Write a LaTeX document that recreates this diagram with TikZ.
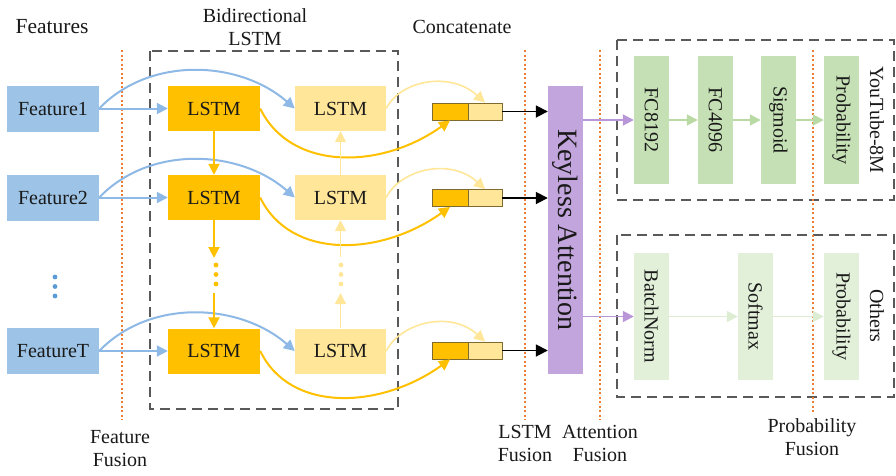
\documentclass[tikz,border=0pt]{standalone}
\usepackage{fontspec}
\setmainfont{Liberation Serif}
\usepackage{graphicx}
\usetikzlibrary{arrows.meta,calc}
\definecolor{featblue}{HTML}{9DC3E6}
\definecolor{arrowblue}{HTML}{8EB8E5}
\definecolor{dotblue}{HTML}{5B9BD5}
\definecolor{lstmorange}{HTML}{FFC000}
\definecolor{lstmyellow}{HTML}{FFE699}
\definecolor{kpurple}{HTML}{C3A5DD}
\definecolor{parrow}{HTML}{B896D8}
\definecolor{greenA}{HTML}{C5E0B4}
\definecolor{greenB}{HTML}{E2F0D9}
\definecolor{garrowA}{HTML}{B9DAA4}
\definecolor{garrowB}{HTML}{DDEDD3}
\definecolor{fuseorange}{HTML}{ED7D31}
\definecolor{dashgray}{HTML}{595959}
\definecolor{catedge}{HTML}{7F6A30}
\begin{document}
\begin{tikzpicture}[x=1pt,y=-1pt,
  txt/.style={font=\fontsize{20}{23}\selectfont, text=black!90},
  box/.style={inner sep=0pt, draw=none, txt},
  feat/.style={box, fill=featblue, minimum width=92pt, minimum height=46pt},
  lstmf/.style={box, fill=lstmorange, minimum width=92pt, minimum height=45pt},
  lstmb/.style={box, fill=lstmyellow, minimum width=91pt, minimum height=45pt},
  catA/.style={draw=catedge, line width=0.8pt, fill=lstmorange, minimum width=36pt, minimum height=17pt, inner sep=0pt},
  catB/.style={draw=catedge, line width=0.8pt, fill=lstmyellow, minimum width=34pt, minimum height=17pt, inner sep=0pt},
  fcA/.style={box, fill=greenA, minimum width=35pt, minimum height=128pt},
  fcB/.style={box, fill=greenB, minimum width=35pt, minimum height=127pt},
  fuse/.style={draw=fuseorange, line width=1.5pt, dash pattern=on 2pt off 2.5pt},
  grp/.style={draw=dashgray, line width=1.4pt, dash pattern=on 10pt off 6pt},
  tip/.style={-{Triangle[length=11pt,width=11pt]}},
  barrow/.style={draw=arrowblue, line width=2pt, tip},
  oarrow/.style={draw=lstmorange, line width=2pt, tip},
  yarrow/.style={draw=lstmyellow, line width=1.6pt, tip},
  karrow/.style={draw=black, line width=1.8pt, -{Triangle[length=12pt,width=12pt]}},
  parw/.style={draw=parrow, line width=1.8pt, tip},
  garwA/.style={draw=garrowA, line width=1.8pt, tip},
  garwB/.style={draw=garrowB, line width=1.8pt, tip},
  lbl/.style={txt, align=center, inner sep=0pt}
]
\useasboundingbox (0,0) rectangle (896,475);

% group boxes
\draw[grp] (150,51) rectangle (398,409);
\draw[grp] (617,40) rectangle (894,200);
\draw[grp] (617,235) rectangle (894,397);

% fusion lines
\draw[fuse] (122,50) -- (122,420);
\draw[fuse] (525,50) -- (525,420);
\draw[fuse] (600,50) -- (600,420);
\draw[fuse] (813,50) -- (813,412);

% top labels
\node[lbl, font=\fontsize{21.5}{24}\selectfont] (tfeat) at (52,27) {Features};
\node[lbl] (tbi) at (255,27) {Bidirectional\\LSTM};
\node[lbl] (tcat) at (462,27) {Concatenate};

% bottom labels
\node[lbl] (lff) at (120,449) {Feature\\Fusion};
\node[lbl] (llf) at (525,443) {LSTM\\Fusion};
\node[lbl] (laf) at (600,443) {Attention\\Fusion};
\node[lbl] (lpf) at (812,437) {Probability\\Fusion};

% features
\node[feat] (f1) at (53,108.5) {Feature1};
\node[feat] (f2) at (53,197.5) {Feature2};
\node[feat] (fT) at (53,351) {FeatureT};
\foreach \yy in {277,286.5,296} \fill[dotblue] (55,\yy) circle (2.4pt);

% LSTMs
\node[lstmf] (lf1) at (214,108.5) {LSTM};
\node[lstmf] (lf2) at (214,197.5) {LSTM};
\node[lstmf] (lfT) at (214,351) {LSTM};
\node[lstmb] (lb1) at (340.5,108.5) {LSTM};
\node[lstmb] (lb2) at (340.5,197.5) {LSTM};
\node[lstmb] (lbT) at (340.5,351) {LSTM};

% concat cells
\node[catA] (ca1) at (450,111.5) {};
\node[catB] (cb1) at (485,111.5) {};
\node[catA] (ca2) at (450,198) {};
\node[catB] (cb2) at (485,198) {};
\node[catA] (caT) at (450,350.5) {};
\node[catB] (cbT) at (485,350.5) {};

% keyless attention
\node[box, fill=kpurple, minimum width=35pt, minimum height=288pt] (ka) at (565.5,230)
  {\fontsize{28}{30}\selectfont\rotatebox{-90}{Keyless Attention}};

% green boxes
\node[fcA] (g1) at (651.5,120) {\rotatebox{-90}{FC8192}};
\node[fcA] (g2) at (715.5,120) {\rotatebox{-90}{FC4096}};
\node[fcA] (g3) at (778.5,120) {\rotatebox{-90}{Sigmoid}};
\node[fcA] (g4) at (841.5,120) {\rotatebox{-90}{Probability}};
\node[fcB] (h1) at (651.5,316.5) {\rotatebox{-90}{BatchNorm}};
\node[fcB] (h2) at (755.5,316.5) {\rotatebox{-90}{Softmax}};
\node[fcB] (h3) at (841.5,316.5) {\rotatebox{-90}{Probability}};
\node[lbl] (yt) at (877,120) {\rotatebox{-90}{YouTube-8M}};
\node[lbl] (ot) at (877,316) {\rotatebox{-90}{Others}};

% row arrows
\foreach \r in {1,2,T} {
  \draw[barrow] (f\r.east) -- (lf\r.west);
  \draw[barrow] (f\r.east) .. controls +(51,-53) and +(-55,-48) .. (lb\r.west);
  \draw[oarrow] (lf\r.east) .. controls +(30,62) and +(-70,50) .. (ca\r.south);
  \draw[yarrow] (lb\r.east) .. controls +(14,-28) and +(-35,-32) .. (cb\r.north);
  \draw[karrow] (cb\r.east) -- (cb\r.east -| ka.west);
}

% vertical forward arrows
\coordinate (fd1) at (214,258);
\coordinate (fd2) at (214,293);
\draw[oarrow] (lf1.south) -- (lf2.north);
\draw[oarrow] (lf2.south) -- (fd1);
\draw[oarrow] (fd2) -- (lfT.north);
\foreach \yy in {265,274.5,284} \fill[lstmorange] (216,\yy) circle (2.4pt);
% vertical backward arrows
\coordinate (bd1) at (340.5,257);
\coordinate (bd2) at (340.5,293);
\draw[yarrow] (lb2.north) -- (lb1.south);
\draw[yarrow] (bd1) -- (lb2.south);
\draw[yarrow] (lbT.north) -- (bd2);
\foreach \yy in {265,274.5,284} \fill[lstmyellow] (341,\yy) circle (2.4pt);

% purple and green arrows
\draw[parw] (ka.east |- g1.west) -- (g1.west);
\draw[parw] (ka.east |- h1.west) -- (h1.west);
\draw[garwA] (g1.east) -- (g2.west);
\draw[garwA] (g2.east) -- (g3.west);
\draw[garwA] (g3.east) -- (g4.west);
\draw[garwB] (h1.east) -- (h2.west);
\draw[garwB] (h2.east) -- (h3.west);
\end{tikzpicture}
\end{document}
